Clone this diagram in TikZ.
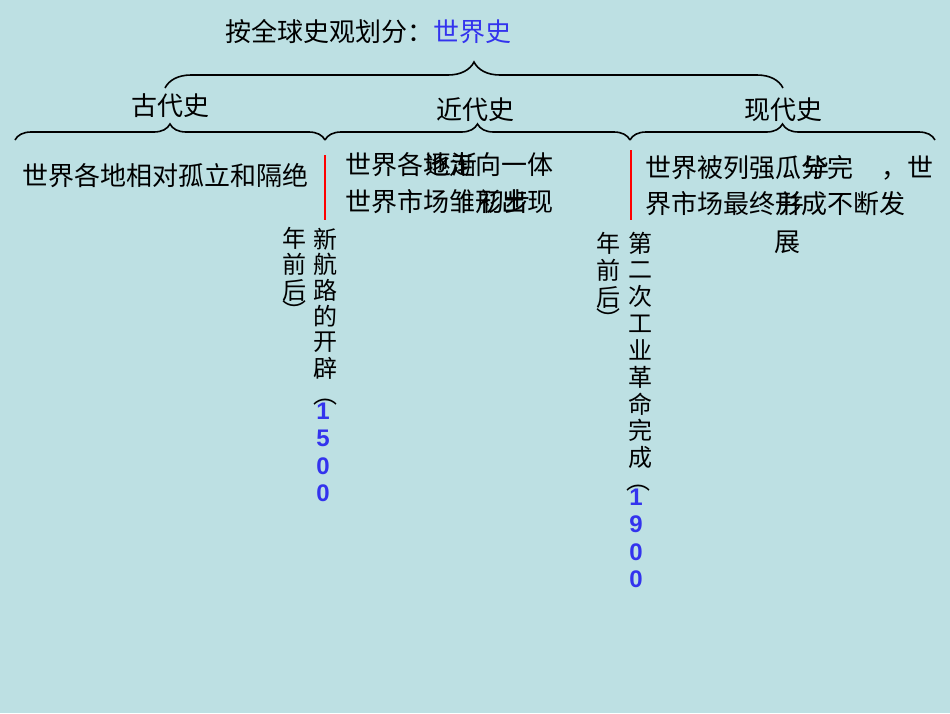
\documentclass[tikz,border=0pt]{standalone}
\usepackage{fontspec}
\setmainfont{Liberation Sans}
\newfontfamily\cjk{Noto Sans CJK SC}
\usetikzlibrary{decorations.pathreplacing}
\definecolor{bg}{HTML}{BDE0E3}
\definecolor{myblue}{HTML}{3333EE}
\begin{document}
\begin{tikzpicture}[x=1pt,y=-1pt,
  txt/.style={font=\cjk\fontsize{26}{26}\selectfont,inner sep=0pt},
  vtxt/.style={font=\cjk\fontsize{24}{24}\selectfont,inner sep=0pt},
  dig/.style={font=\bfseries\fontsize{24}{24}\selectfont,text=myblue,inner sep=0pt},
  brc/.style={draw,line width=1.6pt,decorate,decoration={brace,amplitude=16pt}},
  redl/.style={draw=red,line width=2.5pt}]
\fill[bg] (0,0) rectangle (950,713);
\useasboundingbox (0,0) rectangle (950,713);
% braces
\coordinate (t1) at (165,88); \coordinate (t2) at (783,88);
\draw[brc,decoration={amplitude=26pt}] (t1) -- (t2);
\coordinate (a1) at (15,140); \coordinate (a2) at (325,140);
\coordinate (b2) at (630,140); \coordinate (c2) at (935,140);
\draw[brc] (a1) -- (a2);
\draw[brc] (a2) -- (b2);
\draw[brc] (b2) -- (c2);
% titles
\node[txt,anchor=west] (title) at (225,32) {按全球史观划分：\textcolor{myblue}{世界史}};
\node[txt] (gd) at (170,106) {古代史};
\node[txt] (jd) at (475,110) {近代史};
\node[txt] (xd) at (783,110) {现代史};
% red lines
\coordinate (r1a) at (325,155); \coordinate (r1b) at (325,220);
\coordinate (r2a) at (631,150); \coordinate (r2b) at (631,220);
\draw[redl] (r1a) -- (r1b);
\draw[redl] (r2a) -- (r2b);
% texts
\node[txt,anchor=west] (g1) at (22,176) {世界各地相对孤立和隔绝};
\node[txt,anchor=west] (j1) at (345,165) {世界各地走向一体};
\node[txt,anchor=west] at (345,165) {\phantom{世界各}\rlap{\kern2pt 逐渐}};
\node[txt,anchor=west] (j2) at (345,202) {世界市场雏形出现};
\node[txt,anchor=west] at (345,202) {\phantom{世界市场雏}\rlap{\kern3pt 初步}};
\node[txt,anchor=west] (x1) at (645,168) {世界被列强瓜分完\hspace{1.1em}，世};
\node[txt,anchor=west] at (645,168) {\phantom{世界被列强瓜}\rlap{\kern2pt 毕}};
\node[txt,anchor=west] (x2) at (645,204) {界市场最终形成不断发};
\node[txt,anchor=west] at (645,204) {\phantom{界市场最终}\rlap{\kern3pt 并}};
\node[txt] (x3) at (787,242) {展};
% vertical texts left
\foreach \c [count=\i] in {新,航,路,的,开,辟}
  \node[vtxt] (la\i) at (325,{239+25.8*(\i-1)}) {\c};
\node[vtxt] (lp) at (325,402) {︵};
\foreach \c [count=\i] in {1,5,0,0}
  \node[dig] (ld\i) at (323,{411+27.5*(\i-1)}) {\c};
\foreach \c [count=\i] in {年,前,后}
  \node[vtxt] (lb\i) at (294,{238+26*(\i-1)}) {\c};
\node[vtxt] (lbp) at (294,310) {︶};
% vertical texts right
\foreach \c [count=\i] in {第,二,次,工,业,革,命,完,成}
  \node[vtxt] (ra\i) at (640,{243+26.8*(\i-1)}) {\c};
\node[vtxt] (rp) at (638,488) {︵};
\foreach \c [count=\i] in {1,9,0,0}
  \node[dig] (rd\i) at (636,{497+27.5*(\i-1)}) {\c};
\foreach \c [count=\i] in {年,前,后}
  \node[vtxt] (rb\i) at (608,{243+27*(\i-1)}) {\c};
\node[vtxt] (rbp) at (608,318) {︶};
\end{tikzpicture}
\end{document}
